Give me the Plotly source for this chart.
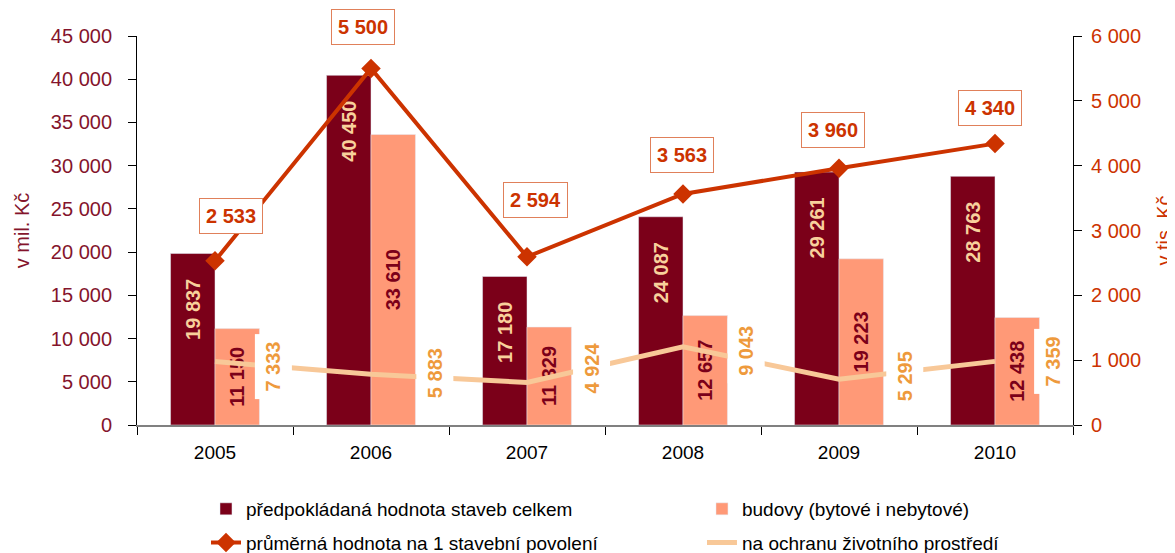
import plotly.graph_objects as go

years = ["2005", "2006", "2007", "2008", "2009", "2010"]
total_value = [19837, 40450, 17180, 24087, 29261, 28763]
buildings = [11150, 33610, 11329, 12657, 19223, 12438]
environment = [7333, 5883, 4924, 9043, 5295, 7359]
avg_per_permit = [2533, 5500, 2594, 3563, 3960, 4340]

name_total = "předpokládaná hodnota staveb celkem"
name_build = "budovy (bytové i nebytové)"
name_avg = "průměrná hodnota na 1 stavební povolení"
name_env = "na ochranu životního prostředí"
left_title = "v mil. Kč"
right_title = "v tis. Kč"

# styles
DARK = "#7B0019"
LIGHT = "#FF9977"
LINE = "#CC3300"
ENV = "#F8C898"
ENV_TEXT = "#EE9A3C"
DARK_LABEL = "#F8D09C"
LEFT_TXT = "#84142C"
FONT = "Liberation Sans, Arial, sans-serif"
PAD = "\u00a0" * 4


def fmt(v):
    return f"{v:,}".replace(",", " ")


# label offsets (pixels)
avg_dx = [16, -8, 8, -1, -6, -5]
avg_dy = [45, 41, 57, 39, 38, 36]
env_dx = [58, 64, 65, 63, 66, 58]
env_dy = [-5, 1, 14, -4, 3, 0]

fig = go.Figure()

fig.add_trace(go.Bar(
    x=years, y=total_value, name=name_total, marker_color=DARK,
    text=[fmt(v) + PAD for v in total_value],
    textposition="inside", insidetextanchor="end", textangle=-90,
    textfont=dict(color=DARK_LABEL, size=20, family=FONT, weight="bold"),
    constraintext="none", legend="legend", legendgroup="a",
))
fig.add_trace(go.Bar(
    x=years, y=buildings, name=name_build, marker_color=LIGHT,
    text=[fmt(v) for v in buildings],
    textposition="inside", insidetextanchor="middle", textangle=-90,
    textfont=dict(color=DARK, size=20, family=FONT, weight="bold"),
    constraintext="none", legend="legend2", legendgroup="b",
))
fig.add_trace(go.Scatter(
    x=years, y=environment, name=name_env, mode="lines",
    line=dict(color=ENV, width=5), legend="legend2", legendgroup="d",
))
fig.add_trace(go.Scatter(
    x=years, y=avg_per_permit, name=name_avg, mode="lines+markers", yaxis="y2",
    line=dict(color=LINE, width=4), marker=dict(symbol="diamond", size=15, color=LINE),
    legend="legend", legendgroup="c",
))

for i, yr in enumerate(years):
    fig.add_annotation(
        x=i, y=avg_per_permit[i], xref="x", yref="y2",
        text="<b>" + fmt(avg_per_permit[i]) + "</b>", showarrow=False,
        xshift=avg_dx[i], yshift=avg_dy[i],
        font=dict(color=LINE, size=20, family=FONT),
        bgcolor="white", bordercolor="#E0805A", borderwidth=1, borderpad=6,
    )
    fig.add_annotation(
        x=i, y=environment[i], xref="x", yref="y",
        text="<b>" + fmt(environment[i]) + "</b>", showarrow=False,
        xshift=env_dx[i], yshift=env_dy[i], textangle=-90,
        font=dict(color=ENV_TEXT, size=20, family=FONT),
        bgcolor="white", borderpad=7,
    )

fig.add_annotation(
    x=1.0962, y=0.5, xref="paper", yref="paper", text=right_title, showarrow=False,
    textangle=-90, xanchor="center", yanchor="middle",
    font=dict(size=20, color=LINE, family=FONT),
)

fig.update_layout(
    width=1175, height=553,
    margin=dict(l=129, r=110, t=28, b=136, autoexpand=False),
    paper_bgcolor="white", plot_bgcolor="white",
    separators=", ",
    font=dict(family=FONT, size=20, color="black"),
    barmode="group", bargap=0.43, bargroupgap=0,
    xaxis=dict(
        type="category", range=[-0.5, 5.5], showline=True, linecolor="#808080", linewidth=2,
        ticks="outside", tickson="boundaries", ticklen=8, tickcolor="black",
        tickfont=dict(size=19, color="black"), ticklabelstandoff=9,
        showgrid=False, zeroline=False, automargin=False,
    ),
    yaxis=dict(
        range=[0, 45000], dtick=5000, tickformat=",d", showline=True, linecolor="black", linewidth=1,
        ticks="outside", ticklen=8, tickcolor="black", showgrid=False, zeroline=False,
        tickfont=dict(size=20, color=LEFT_TXT), ticklabelstandoff=12, automargin=False,
        title=dict(text=left_title, font=dict(size=20, color=LEFT_TXT)),
    ),
    yaxis2=dict(
        range=[0, 6000], dtick=1000, tickformat=",d", overlaying="y", side="right",
        showline=True, linecolor="black", linewidth=1, ticks="outside", ticklen=8, tickcolor="black",
        showgrid=False, zeroline=False, tickfont=dict(size=20, color=LINE), ticklabelstandoff=5,
        automargin=False,
    ),
    legend=dict(
        x=0.0737, y=-0.167, xanchor="left", yanchor="top", orientation="v",
        font=dict(size=19, color="black"), tracegroupgap=6, bgcolor="rgba(0,0,0,0)",
        traceorder="grouped",
    ),
    legend2=dict(
        x=0.6036, y=-0.167, xanchor="left", yanchor="top", orientation="v",
        font=dict(size=19, color="black"), tracegroupgap=6, bgcolor="rgba(0,0,0,0)",
        traceorder="grouped",
    ),
)

fig.write_html("out.html")
